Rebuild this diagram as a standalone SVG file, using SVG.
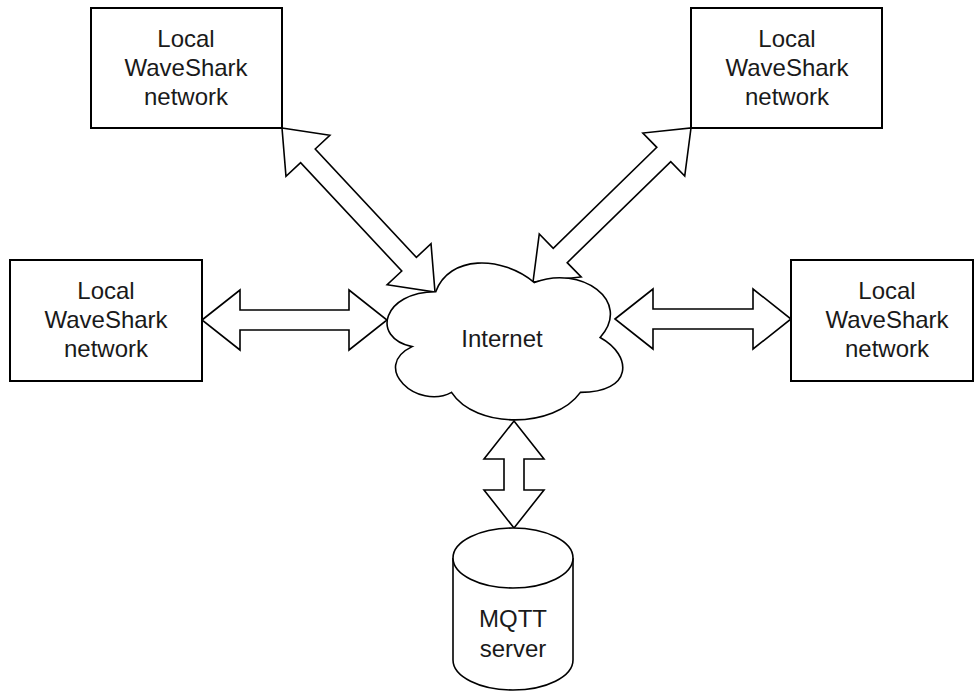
<svg xmlns="http://www.w3.org/2000/svg" width="974" height="692" viewBox="0 0 974 692">
  <style>
    .box { fill: #ffffff; stroke: #000000; stroke-width: 2; }
    .shape { fill: #ffffff; stroke: #000000; stroke-width: 1.6; stroke-linejoin: miter; }
    .arrow { fill: #ffffff; stroke: #000000; stroke-width: 1.6; stroke-linejoin: miter; }
    .label { font-family: "Liberation Sans", Arial, Helvetica, sans-serif; font-size: 24px; fill: #1a1a1a; text-anchor: middle; }
  </style>
  <rect width="974" height="692" fill="#ffffff"/>

  <!-- double-headed block arrows -->
  <g id="connectors">
    <polygon class="arrow" points="282,128 329.86,135.33 315.23,148.97 416.39,257.39 431.02,243.75 435,292 387.14,284.67 401.77,271.03 300.61,162.61 285.98,176.25"/>
    <polygon class="arrow" points="691,128 684.73,176 670.77,161.68 567.19,262.64 581.15,276.96 533,282 539.27,234 553.23,248.32 656.81,147.36 642.85,133.04"/>
    <polygon class="arrow" points="202,320 240,290 240,310 349,310 349,290 387,320 349,350 349,330 240,330 240,350"/>
    <polygon class="arrow" points="615,319 653,289 653,309 753,309 753,289 791,319 753,349 753,329 653,329 653,349"/>
    <polygon class="arrow" points="514,421 544,459 524,459 524,490 544,490 514,528 484,490 504,490 504,459 484,459"/>
  </g>

  <g id="net-top-left">
    <rect class="box" x="91" y="8" width="191" height="120"/>
    <text class="label" x="186" y="47">Local</text>
    <text class="label" x="186" y="76">WaveShark</text>
    <text class="label" x="186" y="105">network</text>
  </g>

  <g id="net-top-right">
    <rect class="box" x="691" y="8" width="191" height="120"/>
    <text class="label" x="787" y="47">Local</text>
    <text class="label" x="787" y="76">WaveShark</text>
    <text class="label" x="787" y="105">network</text>
  </g>

  <g id="net-left">
    <rect class="box" x="10" y="260" width="192" height="121"/>
    <text class="label" x="106" y="299">Local</text>
    <text class="label" x="106" y="328">WaveShark</text>
    <text class="label" x="106" y="357">network</text>
  </g>

  <g id="net-right">
    <rect class="box" x="791" y="260" width="182" height="121"/>
    <text class="label" x="887" y="299">Local</text>
    <text class="label" x="887" y="328">WaveShark</text>
    <text class="label" x="887" y="357">network</text>
  </g>

  <g id="internet">
    <path class="shape" d="M435.75,291.75 C383.15,291.75 370,337.5 412.08,346.65 C370,366.78 417.34,410.7 451.53,392.4 C475.2,429 554.1,429 580.4,392.4 C633,392.4 633,355.8 600.13,337.5 C633,300.9 580.4,264.3 534.38,282.6 C501.5,255.15 448.9,255.15 435.75,291.75 Z"/>
    <text class="label" x="502" y="347">Internet</text>
  </g>

  <g id="mqtt-server">
    <path class="shape" d="M453,558 A60,30 0 0 1 573,558 L573,660 A60,30 0 0 1 453,660 Z"/>
    <path class="shape" fill="none" d="M453,558 A60,30 0 0 0 573,558"/>
    <text class="label" x="513" y="627">MQTT</text>
    <text class="label" x="513" y="657">server</text>
  </g>
</svg>
